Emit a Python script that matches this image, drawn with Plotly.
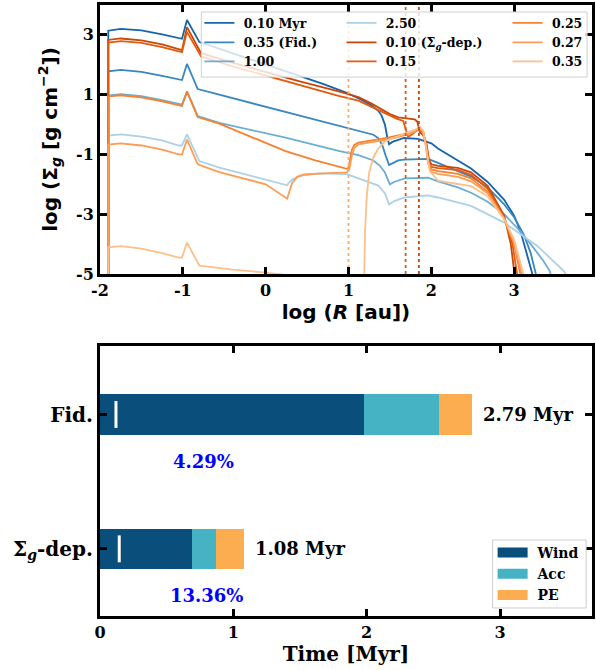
import plotly.graph_objects as go

# ---------------- top panel: surface density profiles ----------------
curve_names = ["0.10 Myr", "0.35 (Fid.)", "1.00", "2.50",
               "0.10 (Σ<sub><i>g</i></sub>-dep.)", "0.15", "0.25", "0.27", "0.35"]
curve_colors = ["#1764ab", "#3787c0", "#6aaed6", "#add1e7",
                "#c9470a", "#e65a0e", "#f7812e", "#fd9c52", "#fdc08a"]

logR_010 = [-1.9, -1.9, -1.75, -1.5, -1.25, -1.05, -1.01, -0.95, -0.8, -0.5, 0.0, 0.36, 0.7, 0.98,
            1.15, 1.28, 1.36, 1.40, 1.44, 1.47, 1.49, 1.53, 1.67, 1.84, 2.0, 2.08, 2.32, 2.48, 2.68,
            2.88, 3.0, 3.08, 3.15, 3.21, 3.24]
logS_010 = [-8, 3.14, 3.2, 3.15, 3.02, 2.88, 2.87, 3.5, 2.76, 2.48, 2.02, 1.67, 1.35, 1.06,
            0.84, 0.64, 0.46, 0.3, 0.0, -0.45, -0.66, -0.58, -0.45, -0.48, -0.63, -0.8, -1.2, -1.47, -1.92,
            -2.52, -3.05, -3.6, -4.3, -4.9, -5.2]

logR_035 = [-1.9, -1.9, -1.75, -1.5, -1.25, -1.05, -1.01, -0.95, -0.82, -0.56, 0.28, 0.76, 1.12,
            1.3, 1.36, 1.41, 1.45, 1.49, 1.53, 1.6, 1.67, 1.96, 2.08, 2.32, 2.48, 2.68, 2.88, 3.0,
            3.12, 3.2, 3.25, 3.28]
logS_035 = [-8, 1.78, 1.83, 1.76, 1.63, 1.5, 1.49, 2.03, 1.19, 1.0, 0.4, 0.05, -0.2,
            -0.34, -0.45, -0.7, -1.05, -1.35, -1.3, -1.2, -1.17, -1.15, -1.28, -1.55, -1.74, -2.1, -2.67, -3.1,
            -3.7, -4.3, -4.9, -5.2]

logR_100 = [-1.9, -1.9, -1.75, -1.5, -1.25, -1.05, -1.01, -0.95, -0.82, -0.56, 0.24, 0.88, 1.12,
            1.3, 1.38, 1.44, 1.5, 1.55, 1.68, 1.96, 2.08, 2.32, 2.48, 2.68, 2.88, 3.05, 3.2, 3.35,
            3.43, 3.46]
logS_100 = [-8, 0.97, 1.02, 0.95, 0.82, 0.68, 0.67, 1.11, 0.28, 0.06, -0.44, -0.88, -1.02,
            -1.2, -1.38, -1.6, -2.0, -1.92, -1.8, -1.78, -1.9, -2.1, -2.28, -2.58, -3.0, -3.5, -4.0, -4.55,
            -4.9, -5.2]

logR_250 = [-1.9, -1.9, -1.75, -1.5, -1.25, -1.05, -1.01, -0.95, -0.8, -0.56, 0.26, 0.28, 0.32,
            0.38, 0.46, 0.64, 0.98, 1.16, 1.36, 1.44, 1.49, 1.56, 1.68, 1.96, 2.08, 2.48, 2.88, 3.28,
            3.6, 3.64]
logS_250 = [-8, -0.37, -0.33, -0.4, -0.53, -0.7, -0.7, -0.33, -1.22, -1.44, -2.03, -1.95, -1.84,
            -1.76, -1.7, -1.63, -1.66, -1.85, -2.04, -2.3, -2.67, -2.55, -2.44, -2.37, -2.44, -2.72, -3.28, -4.06,
            -4.9, -5.1]

logR_s010 = [-1.9, -1.9, -1.75, -1.5, -1.25, -1.05, -1.01, -0.95, -0.78, -0.4, 0.0, 0.4, 0.88,
             1.12, 1.28, 1.4, 1.5, 1.6, 1.7, 1.8, 1.83, 1.86, 1.9, 1.94, 1.97, 2.0, 2.08, 2.32, 2.48,
             2.68, 2.88, 2.96, 3.0, 3.02]
logS_s010 = [-8, 2.83, 2.88, 2.82, 2.68, 2.5, 2.49, 3.26, 2.39, 2.07, 1.76, 1.45, 1.11,
             0.92, 0.7, 0.5, 0.35, 0.24, 0.2, 0.17, 0.1, -0.25, -0.35, -0.6, -1.15, -1.33, -1.38, -1.45, -1.6,
             -2.05, -3.05, -4.0, -4.9, -5.2]

logR_s015 = [-1.9, -1.9, -1.75, -1.5, -1.25, -1.05, -1.01, -0.95, -0.78, -0.4, 0.0, 0.4, 0.88,
             1.12, 1.28, 1.45, 1.58, 1.66, 1.69, 1.72, 1.78, 1.85, 1.9, 1.94, 1.97, 2.0, 2.08, 2.32,
             2.48, 2.68, 2.88, 2.98, 3.03, 3.05]
logS_s015 = [-8, 2.74, 2.79, 2.73, 2.59, 2.43, 2.42, 3.1, 2.28, 1.95, 1.64, 1.33, 0.96,
             0.8, 0.59, 0.35, 0.2, 0.12, -0.15, -0.42, -0.3, -0.15, -0.25, -0.7, -1.25, -1.42, -1.46, -1.52,
             -1.68, -2.15, -3.1, -4.0, -4.9, -5.2]

logR_s025 = [-1.9, -1.9, -1.75, -1.5, -1.25, -1.05, -1.01, -0.95, -0.82, -0.56, 0.24, 0.6, 0.98,
             1.0, 1.02, 1.04, 1.07, 1.12, 1.3, 1.48, 1.65, 1.79, 1.85, 1.9, 1.93, 1.96, 2.0, 2.08,
             2.32, 2.48, 2.68, 2.88, 3.0, 3.06, 3.09]
logS_s025 = [-8, 0.94, 0.98, 0.91, 0.78, 0.63, 0.62, 1.1, 0.25, 0.03, -0.89, -1.2, -1.48,
             -1.45, -1.15, -0.85, -0.68, -0.6, -0.52, -0.44, -0.33, -0.22, -0.1, -0.2, -0.6, -1.2, -1.5, -1.56,
             -1.65, -1.8, -2.25, -3.15, -4.0, -4.9, -5.2]

logR_s027 = [-1.9, -1.9, -1.75, -1.5, -1.25, -1.05, -1.01, -0.95, -0.82, -0.56, 0.0, 0.26, 0.28,
             0.32, 0.38, 0.46, 0.7, 0.98, 1.01, 1.04, 1.07, 1.12, 1.3, 1.48, 1.65, 1.8, 1.85, 1.9,
             1.93, 1.96, 2.0, 2.08, 2.32, 2.48, 2.68, 2.88, 3.0, 3.08, 3.11]
logS_s027 = [-8, -0.67, -0.63, -0.7, -0.84, -1.0, -1.0, -0.5, -1.33, -1.59, -2.0, -2.48, -2.3,
             -1.95, -1.75, -1.67, -1.63, -1.6, -1.5, -1.05, -0.78, -0.66, -0.58, -0.5, -0.38, -0.25, -0.12, -0.22,
             -0.65, -1.3, -1.58, -1.65, -1.75, -1.9, -2.3, -3.15, -3.95, -4.9, -5.2]

logR_s035 = [-1.9, -1.9, -1.75, -1.5, -1.25, -1.05, -1.01, -0.95, -0.8, -0.4, 0.0, 0.3, 0.6,
             1.18, 1.19, 1.2, 1.22, 1.25, 1.3, 1.36, 1.44, 1.56, 1.68, 1.8, 1.86, 1.9, 1.94, 1.98,
             2.08, 2.3, 2.48, 2.68, 2.88, 3.0, 3.1, 3.13]
logS_s035 = [-8, -4.11, -4.07, -4.15, -4.3, -4.45, -4.45, -3.95, -4.72, -4.85, -4.95, -5.05, -5.5,
             -9, -5.0, -3.6, -2.4, -1.6, -1.1, -0.8, -0.56, -0.42, -0.3, -0.18, -0.08, -0.2, -0.8, -1.55,
             -1.88, -1.98, -2.06, -2.4, -3.17, -3.85, -4.9, -5.2]

curve_x = [logR_010, logR_035, logR_100, logR_250, logR_s010, logR_s015, logR_s025, logR_s027, logR_s035]
curve_y = [logS_010, logS_035, logS_100, logS_250, logS_s010, logS_s015, logS_s025, logS_s027, logS_s035]

gap_positions = [1.0, 1.69, 1.85]
gap_colors = ["#fdae6b", "#e6550d", "#c4470c"]

x_ticks_top = [-2, -1, 0, 1, 2, 3]
x_ticktext_top = ["-2", "-1", "0", "1", "2", "3"]
y_ticks_top = [3, 1, -1, -3, -5]
y_ticktext_top = ["3", "1", "-1", "-3", "-5"]

# ---------------- bottom panel: disc lifetimes ----------------
models = ["Fid.", "Σ<sub><i>g</i></sub>-dep."]
model_pos = [1, 0]
wind_time = [1.98, 0.69]
acc_time = [0.56, 0.18]
pe_time = [0.25, 0.21]
total_time = [2.79, 1.08]
percent = [4.29, 13.36]
comp_names = ["Wind", "Acc", "PE"]
comp_colors = ["#0a4f7c", "#46b3c4", "#fbad50"]

# legend slots of the top panel: 3 columns x 3 rows (column-major), in paper coords
leg_col_x = [0.202, 0.4909, 0.8283]
leg_row_y = [0.970, 0.9383, 0.9072]

fig = go.Figure()
NB = "\u00a0"

for i, (xs, ys, name, col) in enumerate(zip(curve_x, curve_y, curve_names, curve_colors)):
    lg = "legend" if i == 0 else f"legend{i + 1}"
    fig.add_trace(go.Scatter(x=xs, y=ys, mode="lines", name=NB + name, legend=lg,
                             line=dict(color=col, width=1.8), xaxis="x", yaxis="y"))

for gx, gc in zip(gap_positions, gap_colors):
    fig.add_trace(go.Scatter(x=[gx, gx], y=[-5, 4], mode="lines", showlegend=False,
                             line=dict(color=gc, width=1.8, dash="dot"), xaxis="x", yaxis="y"))

for comp, col in zip([wind_time, acc_time, pe_time], comp_colors):
    fig.add_trace(go.Bar(x=comp, y=model_pos, orientation="h", width=0.3,
                         marker=dict(color=col, line=dict(width=0)), showlegend=False,
                         xaxis="x2", yaxis="y2"))

mark_x, mark_y = [], []
for p, t, yp in zip(percent, total_time, model_pos):
    xv = p / 100.0 * t
    mark_x += [xv, xv, None]
    mark_y += [yp - 0.1, yp + 0.1, None]
fig.add_trace(go.Scatter(x=mark_x, y=mark_y, mode="lines", showlegend=False,
                         line=dict(color="white", width=3), xaxis="x2", yaxis="y2"))

for nm, col in zip(comp_names, comp_colors):
    fig.add_trace(go.Scatter(x=[None], y=[None], mode="lines", name=NB + nm, legend="legend10",
                             line=dict(color=col, width=11), xaxis="x2", yaxis="y2"))

for t, yp in zip(total_time, model_pos):
    fig.add_annotation(x=t + 0.065, y=yp, xref="x2", yref="y2", text=f"{t:.2f} Myr",
                       showarrow=False, xanchor="left", yanchor="middle",
                       font=dict(family="DejaVu Serif", size=18, color="black", weight="bold"))
for p, yp, xc in zip(percent, model_pos, [0.775, 0.8]):
    fig.add_annotation(x=xc, y=yp - 0.35, xref="x2", yref="y2", text=f"{p:.2f}%",
                       showarrow=False, xanchor="center", yanchor="middle",
                       font=dict(family="DejaVu Serif", size=18, color="#0000ff", weight="bold"))

# legend frames
fig.add_shape(type="rect", xref="paper", yref="paper", x0=0.206, x1=0.99, y0=0.882, y1=0.9885,
              fillcolor="rgba(255,255,255,0.8)", line=dict(color="#d0d0d0", width=1), layer="above")
fig.add_shape(type="rect", xref="paper", yref="paper", x0=0.798, x1=0.988, y0=0.0131, y1=0.1244,
              fillcolor="white", line=dict(color="#cccccc", width=1), layer="above")

tickfont = dict(family="DejaVu Serif", size=16, color="black", weight="bold")
axis_common = dict(showline=True, linewidth=3, linecolor="black", mirror="allticks",
                   ticks="inside", ticklen=7, tickwidth=2.5, tickcolor="black",
                   showgrid=False, zeroline=False)

leg_font = dict(family="DejaVu Serif", size=12.5, color="black", weight="bold")
legends = {}
for i in range(9):
    key = "legend" if i == 0 else f"legend{i + 1}"
    legends[key] = dict(x=leg_col_x[i // 3], y=leg_row_y[i % 3], xanchor="left", yanchor="middle",
                        bgcolor="rgba(0,0,0,0)", borderwidth=0, font=leg_font,
                        traceorder="normal", itemwidth=30)
legends["legend10"] = dict(x=0.798, y=0.1293, xanchor="left", yanchor="top",
                           bgcolor="rgba(0,0,0,0)", borderwidth=0, traceorder="normal",
                           tracegroupgap=0, itemwidth=30,
                           font=dict(family="DejaVu Serif", size=14, color="black", weight="bold"))

fig.update_layout(
    width=596, height=670,
    margin=dict(l=100, r=1, t=5, b=54),
    paper_bgcolor="white", plot_bgcolor="white",
    font=dict(family="DejaVu Serif", color="black"),
    barmode="stack", bargap=0,
    xaxis=dict(domain=[0, 1], anchor="y", range=[-2, 3.94], tickvals=x_ticks_top,
               ticktext=x_ticktext_top, tickfont=tickfont,
               title=dict(text="log (<i>R</i> [au])", standoff=6,
                          font=dict(family="DejaVu Sans", size=20, weight="bold")),
               **axis_common),
    yaxis=dict(domain=[0.5597, 1], anchor="x", range=[-5, 4], tickvals=y_ticks_top,
               ticktext=y_ticktext_top, tickfont=tickfont,
               title=dict(text="log (Σ<sub><i>g</i></sub> [g cm<sup>−2</sup>])", standoff=14,
                          font=dict(family="DejaVu Sans", size=20, weight="bold")),
               **axis_common),
    xaxis2=dict(domain=[0, 1], anchor="y2", range=[0, 3.69], tickvals=[0, 1, 2, 3],
                tickfont=tickfont,
                title=dict(text="Time [Myr]", standoff=4,
                           font=dict(family="DejaVu Serif", size=20, weight="bold")),
                **axis_common),
    yaxis2=dict(domain=[0, 0.4419], anchor="x2", range=[-0.5, 1.51], tickvals=model_pos,
                ticktext=models,
                tickfont=dict(family="DejaVu Serif", size=20, color="black", weight="bold"),
                **axis_common),
    **legends,
)

fig.write_html("out.html")
